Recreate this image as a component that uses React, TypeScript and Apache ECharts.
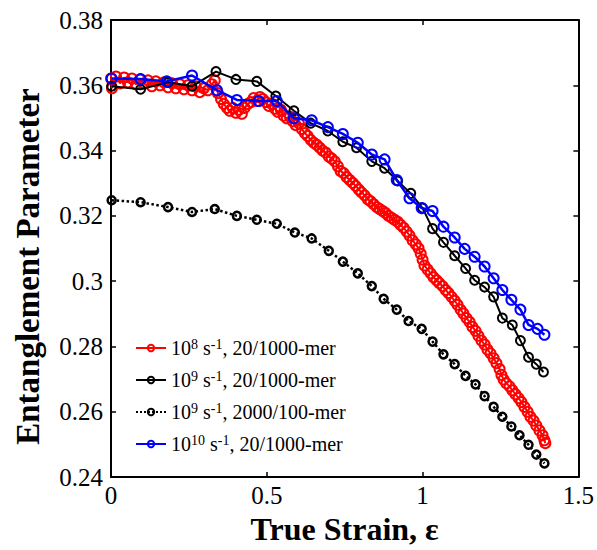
import React, { useEffect, useRef } from "react";
import * as echarts from "echarts";

const FONT = "'Liberation Serif', 'Times New Roman', serif";

const seriesNames = [
  "1e8 s-1, 20/1000-mer",
  "1e9 s-1, 20/1000-mer",
  "1e9 s-1, 2000/100-mer",
  "1e10 s-1, 20/1000-mer",
];
const legendLabels = [
  "10{sup|8} s{sup|-1}, 20/1000-mer",
  "10{sup|9} s{sup|-1}, 20/1000-mer",
  "10{sup|9} s{sup|-1}, 2000/100-mer",
  "10{sup|10} s{sup|-1}, 20/1000-mer",
];

const red8: number[][] = [
  [0.000, 0.3621], [0.003, 0.3591], [0.016, 0.3627], [0.029, 0.3606], [0.042, 0.3624],
  [0.054, 0.3609], [0.067, 0.3621], [0.080, 0.3603], [0.093, 0.3618], [0.106, 0.3606],
  [0.119, 0.3615], [0.131, 0.3597], [0.144, 0.3612], [0.157, 0.3600], [0.170, 0.3609],
  [0.183, 0.3594], [0.196, 0.3606], [0.208, 0.3591], [0.221, 0.3603], [0.234, 0.3588],
  [0.247, 0.3600], [0.260, 0.3585], [0.272, 0.3597], [0.285, 0.3579], [0.298, 0.3591],
  [0.311, 0.3585], [0.324, 0.3603], [0.333, 0.3615], [0.343, 0.3576], [0.353, 0.3558],
  [0.362, 0.3543], [0.372, 0.3531], [0.381, 0.3522], [0.391, 0.3531], [0.401, 0.3516],
  [0.410, 0.3525], [0.420, 0.3513], [0.429, 0.3531], [0.439, 0.3543], [0.449, 0.3549],
  [0.458, 0.3561], [0.468, 0.3552], [0.478, 0.3564], [0.487, 0.3558], [0.497, 0.3549],
  [0.506, 0.3537], [0.516, 0.3543], [0.526, 0.3528], [0.535, 0.3519], [0.545, 0.3525],
  [0.554, 0.3507], [0.564, 0.3499], [0.574, 0.3504], [0.583, 0.3490], [0.593, 0.3478],
  [0.603, 0.3484], [0.612, 0.3466], [0.622, 0.3454], [0.631, 0.3445], [0.641, 0.3433],
  [0.651, 0.3424], [0.660, 0.3418], [0.670, 0.3409], [0.679, 0.3400], [0.689, 0.3394],
  [0.699, 0.3382], [0.708, 0.3376], [0.718, 0.3367], [0.728, 0.3352], [0.737, 0.3337],
  [0.747, 0.3331], [0.756, 0.3319], [0.766, 0.3310], [0.776, 0.3301], [0.785, 0.3292],
  [0.795, 0.3281], [0.804, 0.3272], [0.814, 0.3263], [0.824, 0.3251], [0.833, 0.3245],
  [0.843, 0.3236], [0.853, 0.3227], [0.862, 0.3221], [0.872, 0.3215], [0.881, 0.3209],
  [0.891, 0.3200], [0.901, 0.3194], [0.910, 0.3188], [0.920, 0.3182], [0.929, 0.3173],
  [0.939, 0.3164], [0.949, 0.3152], [0.958, 0.3140], [0.968, 0.3125], [0.978, 0.3113],
  [0.987, 0.3101], [0.994, 0.3084], [1.000, 0.3066], [1.006, 0.3048], [1.016, 0.3036],
  [1.026, 0.3024], [1.035, 0.3012], [1.045, 0.3003], [1.054, 0.2994], [1.064, 0.2985],
  [1.074, 0.2973], [1.083, 0.2964], [1.093, 0.2952], [1.103, 0.2940], [1.112, 0.2928],
  [1.122, 0.2913], [1.131, 0.2901], [1.141, 0.2887], [1.151, 0.2875], [1.160, 0.2860],
  [1.170, 0.2848], [1.179, 0.2833], [1.189, 0.2818], [1.199, 0.2806], [1.208, 0.2791],
  [1.218, 0.2779], [1.228, 0.2764], [1.237, 0.2749], [1.247, 0.2731], [1.253, 0.2713],
  [1.260, 0.2699], [1.269, 0.2687], [1.279, 0.2678], [1.288, 0.2666], [1.298, 0.2654],
  [1.308, 0.2642], [1.317, 0.2630], [1.327, 0.2615], [1.337, 0.2600], [1.346, 0.2585],
  [1.356, 0.2573], [1.365, 0.2558], [1.375, 0.2543], [1.385, 0.2528], [1.391, 0.2513],
  [1.394, 0.2504],
];

const black9: number[][] = [
  [0.002, 0.3597], [0.095, 0.3588], [0.183, 0.3609], [0.260, 0.3597], [0.337, 0.3642],
  [0.401, 0.3618], [0.468, 0.3612], [0.529, 0.3567], [0.587, 0.3522], [0.641, 0.3484],
  [0.696, 0.3460], [0.744, 0.3427], [0.788, 0.3409], [0.837, 0.3367], [0.878, 0.3346],
  [0.920, 0.3307], [0.962, 0.3269], [1.000, 0.3224], [1.032, 0.3161], [1.067, 0.3119],
  [1.103, 0.3078], [1.138, 0.3039], [1.167, 0.3003], [1.199, 0.2982], [1.228, 0.2952],
  [1.256, 0.2887], [1.288, 0.2866], [1.314, 0.2818], [1.340, 0.2767], [1.365, 0.2746],
  [1.388, 0.2722],
];

const dotted9: number[][] = [
  [0.002, 0.3248], [0.095, 0.3242], [0.183, 0.3227], [0.260, 0.3212], [0.333, 0.3221],
  [0.404, 0.3200], [0.468, 0.3188], [0.532, 0.3176], [0.590, 0.3149], [0.644, 0.3131],
  [0.699, 0.3093], [0.744, 0.3060], [0.792, 0.3024], [0.837, 0.2985], [0.875, 0.2946],
  [0.917, 0.2913], [0.955, 0.2878], [0.997, 0.2854], [1.032, 0.2815], [1.067, 0.2776],
  [1.103, 0.2746], [1.138, 0.2710], [1.170, 0.2684], [1.199, 0.2648], [1.228, 0.2615],
  [1.256, 0.2585], [1.285, 0.2555], [1.311, 0.2528], [1.340, 0.2499], [1.365, 0.2469],
  [1.391, 0.2442],
];

const blue10: number[][] = [
  [0.002, 0.3621], [0.095, 0.3619], [0.179, 0.3612], [0.260, 0.3630], [0.340, 0.3585],
  [0.404, 0.3555], [0.474, 0.3552], [0.532, 0.3552], [0.587, 0.3499], [0.644, 0.3493],
  [0.696, 0.3472], [0.744, 0.3451], [0.792, 0.3424], [0.837, 0.3388], [0.878, 0.3373],
  [0.917, 0.3310], [0.958, 0.3254], [0.997, 0.3224], [1.032, 0.3215], [1.067, 0.3167],
  [1.103, 0.3134], [1.135, 0.3099], [1.167, 0.3075], [1.199, 0.3045], [1.228, 0.3009],
  [1.256, 0.2973], [1.285, 0.2943], [1.314, 0.2913], [1.340, 0.2866], [1.369, 0.2854],
  [1.391, 0.2836],
];

const xTicks = { min: 0, max: 1.5, interval: 0.5 };
const yTicks = { min: 0.24, max: 0.38, interval: 0.02 };

export default function App() {
  const ref = useRef<HTMLDivElement>(null);
  useEffect(() => {
    if (!ref.current) return;
    const chart = echarts.init(ref.current, undefined, { renderer: "svg" });
    const axisLine = { show: true, onZero: false, lineStyle: { color: "#000", width: 2 } };
    const tick = { show: true, inside: true, length: 5, lineStyle: { color: "#000", width: 1.5 } };
    const mk = (name: string, data: number[][], color: string, opts: any) => ({
      name,
      type: "line",
      data,
      symbol: "circle",
      symbolSize: opts.size,
      itemStyle: { color: "rgba(0,0,0,0)", borderColor: color, borderWidth: opts.bw },
      lineStyle: { color, width: opts.lw, type: opts.type || "solid" },
      z: opts.z,
    });
    chart.setOption({
      animation: false,
      grid: { left: 111, right: 18, top: 20, bottom: 62 },
      legend: {
        left: 135,
        top: 337,
        orient: "vertical",
        padding: 0,
        itemGap: 10,
        itemWidth: 30,
        itemHeight: 8,
        data: seriesNames,
        formatter: (n: string) => legendLabels[seriesNames.indexOf(n)],
        textStyle: {
          fontFamily: FONT,
          fontSize: 20,
          color: "#000",
          lineHeight: 22,
          rich: {
            sup: { fontFamily: FONT, fontSize: 14, color: "#000", verticalAlign: "top", lineHeight: 22, padding: [0, 0, 8, 0] },
          },
        },
      },
      xAxis: [
        {
          type: "value",
          ...xTicks,
          position: "bottom",
          axisLine,
          axisTick: tick,
          splitLine: { show: false },
          axisLabel: { fontFamily: FONT, fontSize: 25, color: "#000", margin: 6 },
          name: "True Strain, ε",
          nameLocation: "middle",
          nameGap: 28,
          nameTextStyle: { fontFamily: FONT, fontSize: 32, fontWeight: "bold", color: "#000" },
        },
        {
          type: "value",
          ...xTicks,
          position: "top",
          axisLine,
          axisTick: tick,
          splitLine: { show: false },
          axisLabel: { show: false },
        },
      ],
      yAxis: [
        {
          type: "value",
          ...yTicks,
          position: "left",
          axisLine,
          axisTick: tick,
          splitLine: { show: false },
          axisLabel: { fontFamily: FONT, fontSize: 25, color: "#000", margin: 8 },
          name: "Entanglement Parameter",
          nameLocation: "middle",
          nameGap: 67,
          nameTextStyle: { fontFamily: FONT, fontSize: 33, fontWeight: "bold", color: "#000", padding: [0, 36, 0, 0] },
        },
        {
          type: "value",
          ...yTicks,
          position: "right",
          axisLine,
          axisTick: tick,
          splitLine: { show: false },
          axisLabel: { show: false },
        },
      ],
      series: [
        mk(seriesNames[0], red8, "#ff0000", { size: 10, bw: 2, lw: 2, z: 2 }),
        mk(seriesNames[1], black9, "#000000", { size: 9, bw: 2, lw: 2, z: 3 }),
        mk(seriesNames[2], dotted9, "#000000", { size: 8, bw: 2.5, lw: 2.5, type: "dotted", z: 4 }),
        mk(seriesNames[3], blue10, "#0000ff", { size: 10, bw: 2, lw: 2.5, z: 5 }),
      ],
    });
    return () => chart.dispose();
  }, []);
  return (
    <div
      ref={ref}
      style={{ position: "absolute", left: 0, top: 0, width: 597, height: 550, background: "#fff" }}
    />
  );
}
